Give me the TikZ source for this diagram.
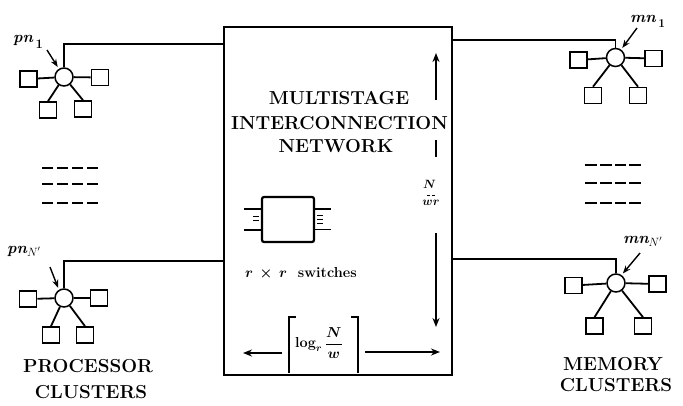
\documentclass[tikz,border=0pt]{standalone}
\usetikzlibrary{arrows.meta}
\begin{document}
\begin{tikzpicture}[x=1pt,y=-1pt,
  sq/.style={draw,line width=1.6pt,minimum width=17pt,minimum height=16pt,inner sep=0pt},
  hub/.style={circle,draw,line width=1.5pt,minimum size=18pt,inner sep=0pt},
  spoke/.style={line width=1.8pt},
  wire/.style={line width=1.6pt},
  lbl/.style={font=\fontsize{16}{16}\selectfont\bfseries\itshape,inner sep=0pt},
  ttl/.style={font=\fontsize{18.8}{24}\selectfont\bfseries,inner sep=0pt},
  ptr/.style={line width=1.4pt,-{Stealth[length=8pt,width=6pt]}},
  arr/.style={line width=1.6pt,-{Stealth[length=9pt,width=7pt]}},
  dsh/.style={line width=2.3pt},
  lead/.style={line width=1.8pt},
  tick/.style={line width=1pt}]
\useasboundingbox (0,0) rectangle (683,405);

% main network box
\node[draw,line width=2pt,minimum width=228pt,minimum height=348pt,inner sep=0pt] (net) at (338,201) {};
\node[ttl,anchor=base] (t1) at (339,104) {MULTISTAGE};
\node[ttl,anchor=base] (t2) at (339.5,129) {INTERCONNECTION};
\node[ttl,anchor=base] (t3) at (336,152) {NETWORK};

% switch icon
\node[draw,line width=2.2pt,rounded corners=2pt,minimum width=52pt,minimum height=45pt,inner sep=0pt] (sw) at (288,219.5) {};
\draw[lead] ([yshift=10.5pt]sw.west) -- ++(-17,0);
\draw[lead] ([yshift=-10.5pt]sw.west) -- ++(-17,0);
\draw[lead] ([yshift=10.5pt]sw.east) -- ++(16,0);
\draw[lead] ([yshift=-10pt]sw.east) -- ++(16,0);
\draw[tick] (253,216.5) -- (259,216.5);
\draw[tick] (253,220) -- (259,220);
\draw[tick] (317,215) -- (323,215);
\draw[tick] (317,219) -- (323,219);
\draw[tick] (317,223) -- (323,223);
\node[anchor=base west,inner sep=0pt,font=\fontsize{14.5}{14.5}\selectfont\bfseries] (swl) at (245,277) {{\boldmath$r\,\times\,r$}\ \ switches};

% vertical dimension N/wr
\draw[arr] (436,100) -- (436,53);
\draw[line width=1.6pt] (436,140) -- (436,157);
\draw[arr] (436,233) -- (436,327);
\node[inner sep=0pt,font=\fontsize{12}{12}\selectfont\boldmath] (fn) at (429.5,184) {$N$};
\node[inner sep=0pt,font=\fontsize{12}{12}\selectfont\boldmath] (fd) at (431,203) {$wr$};
\draw[line width=0.9pt,dash pattern=on 2.5pt off 2.5pt] (427,195) -- (435,195);

% horizontal dimension log
\draw[arr] (282,353) -- (243,353);
\draw[arr] (365,352) -- (440,352);
\draw[line width=1.6pt] (296,317) -- (289,317) -- (289,373);
\draw[line width=1.6pt] (351,317) -- (358,317) -- (358,373);
\node[inner sep=0pt,font=\fontsize{14.4}{15}\selectfont\boldmath] (lg) at (319,343) {$\displaystyle\log_r \frac{N}{w}$};

% processor cluster 1
\node[hub] (h1) at (64,77) {};
\node[sq] (a1) at (28.5,79) {};
\node[sq] (a2) at (100,77.5) {};
\node[sq] (a3) at (48,110) {};
\node[sq] (a4) at (83,109) {};
\draw[spoke] (h1) -- (a1); \draw[spoke] (h1) -- (a2);
\draw[spoke] (h1) -- (a3.north); \draw[spoke] (h1) -- (a4.north);
\coordinate (in1) at (224,44);
\draw[wire] (h1.north) |- (in1);
\node[lbl,anchor=base west] (l1) at (13,42) {pn\,\raisebox{-6pt}{\upshape\fontsize{13}{13}\selectfont 1}};
\coordinate (q1) at (47,50);
\draw[ptr,shorten >=2pt] (q1) -- (h1.122);

% processor cluster N'
\node[hub] (h2) at (64,298) {};
\node[sq] (b1) at (28,299) {};
\node[sq] (b2) at (99,298) {};
\node[sq] (b3) at (51,335) {};
\node[sq] (b4) at (85,335) {};
\draw[spoke] (h2) -- (b1); \draw[spoke] (h2) -- (b2);
\draw[spoke] (h2) -- (b3.north); \draw[spoke] (h2) -- (b4.north);
\coordinate (in2) at (224,261);
\draw[wire] (h2.north) |- (in2);
\node[lbl,anchor=base west] (l2) at (7,253) {pn\raisebox{-3pt}{\fontsize{12}{12}\selectfont$N'$}};
\coordinate (q2) at (50,267);
\draw[ptr,shorten >=2pt] (q2) -- (h2.122);

% memory cluster 1
\node[hub] (h3) at (615.5,57.5) {};
\node[sq] (c1) at (578.5,60) {};
\node[sq] (c2) at (653.5,58.5) {};
\node[sq] (c3) at (593,95.5) {};
\node[sq] (c4) at (638,95.5) {};
\draw[spoke] (h3) -- (c1); \draw[spoke] (h3) -- (c2);
\draw[spoke] (h3) -- (c3.north); \draw[spoke] (h3) -- (c4.north);
\coordinate (in3) at (453,40);
\draw[wire] (h3.north) |- (in3);
\node[lbl,anchor=base west] (l3) at (630,22) {mn\,\raisebox{-5pt}{\upshape\fontsize{12}{12}\selectfont 1}};
\coordinate (q3) at (637,28);
\draw[ptr,shorten >=2pt] (q3) -- (h3.55);

% memory cluster N'
\node[hub] (h4) at (616,283) {};
\node[sq] (d1) at (573.5,285.5) {};
\node[sq] (d2) at (657.5,284) {};
\node[sq] (d3) at (594.5,326) {};
\node[sq] (d4) at (643,326) {};
\draw[spoke] (h4) -- (d1); \draw[spoke] (h4) -- (d2);
\draw[spoke] (h4) -- (d3.north); \draw[spoke] (h4) -- (d4.north);
\coordinate (in4) at (453,259);
\draw[wire] (h4.north) |- (in4);
\node[lbl,anchor=base west] (l4) at (623,243) {mn\raisebox{-3pt}{\fontsize{12}{12}\selectfont$N'$}};
\coordinate (q4) at (640,253);
\draw[ptr,shorten >=2pt] (q4) -- (h4.55);

% ellipsis dashes
\foreach \yy in {168,184,203}{
  \draw[dsh,dash pattern=on 11pt off 4pt] (42,\yy) -- (98,\yy);
}
\foreach \yy in {165,183,203}{
  \draw[dsh,dash pattern=on 11.75pt off 3pt] (585,\yy) -- (641,\yy);
}

% cluster titles
\node[ttl] (pc1) at (88,366) {PROCESSOR};
\node[ttl] (pc2) at (91,392) {CLUSTERS};
\node[ttl] (mc1) at (613,364.5) {MEMORY};
\node[ttl] (mc2) at (616,385) {CLUSTERS};
\end{tikzpicture}
\end{document}
